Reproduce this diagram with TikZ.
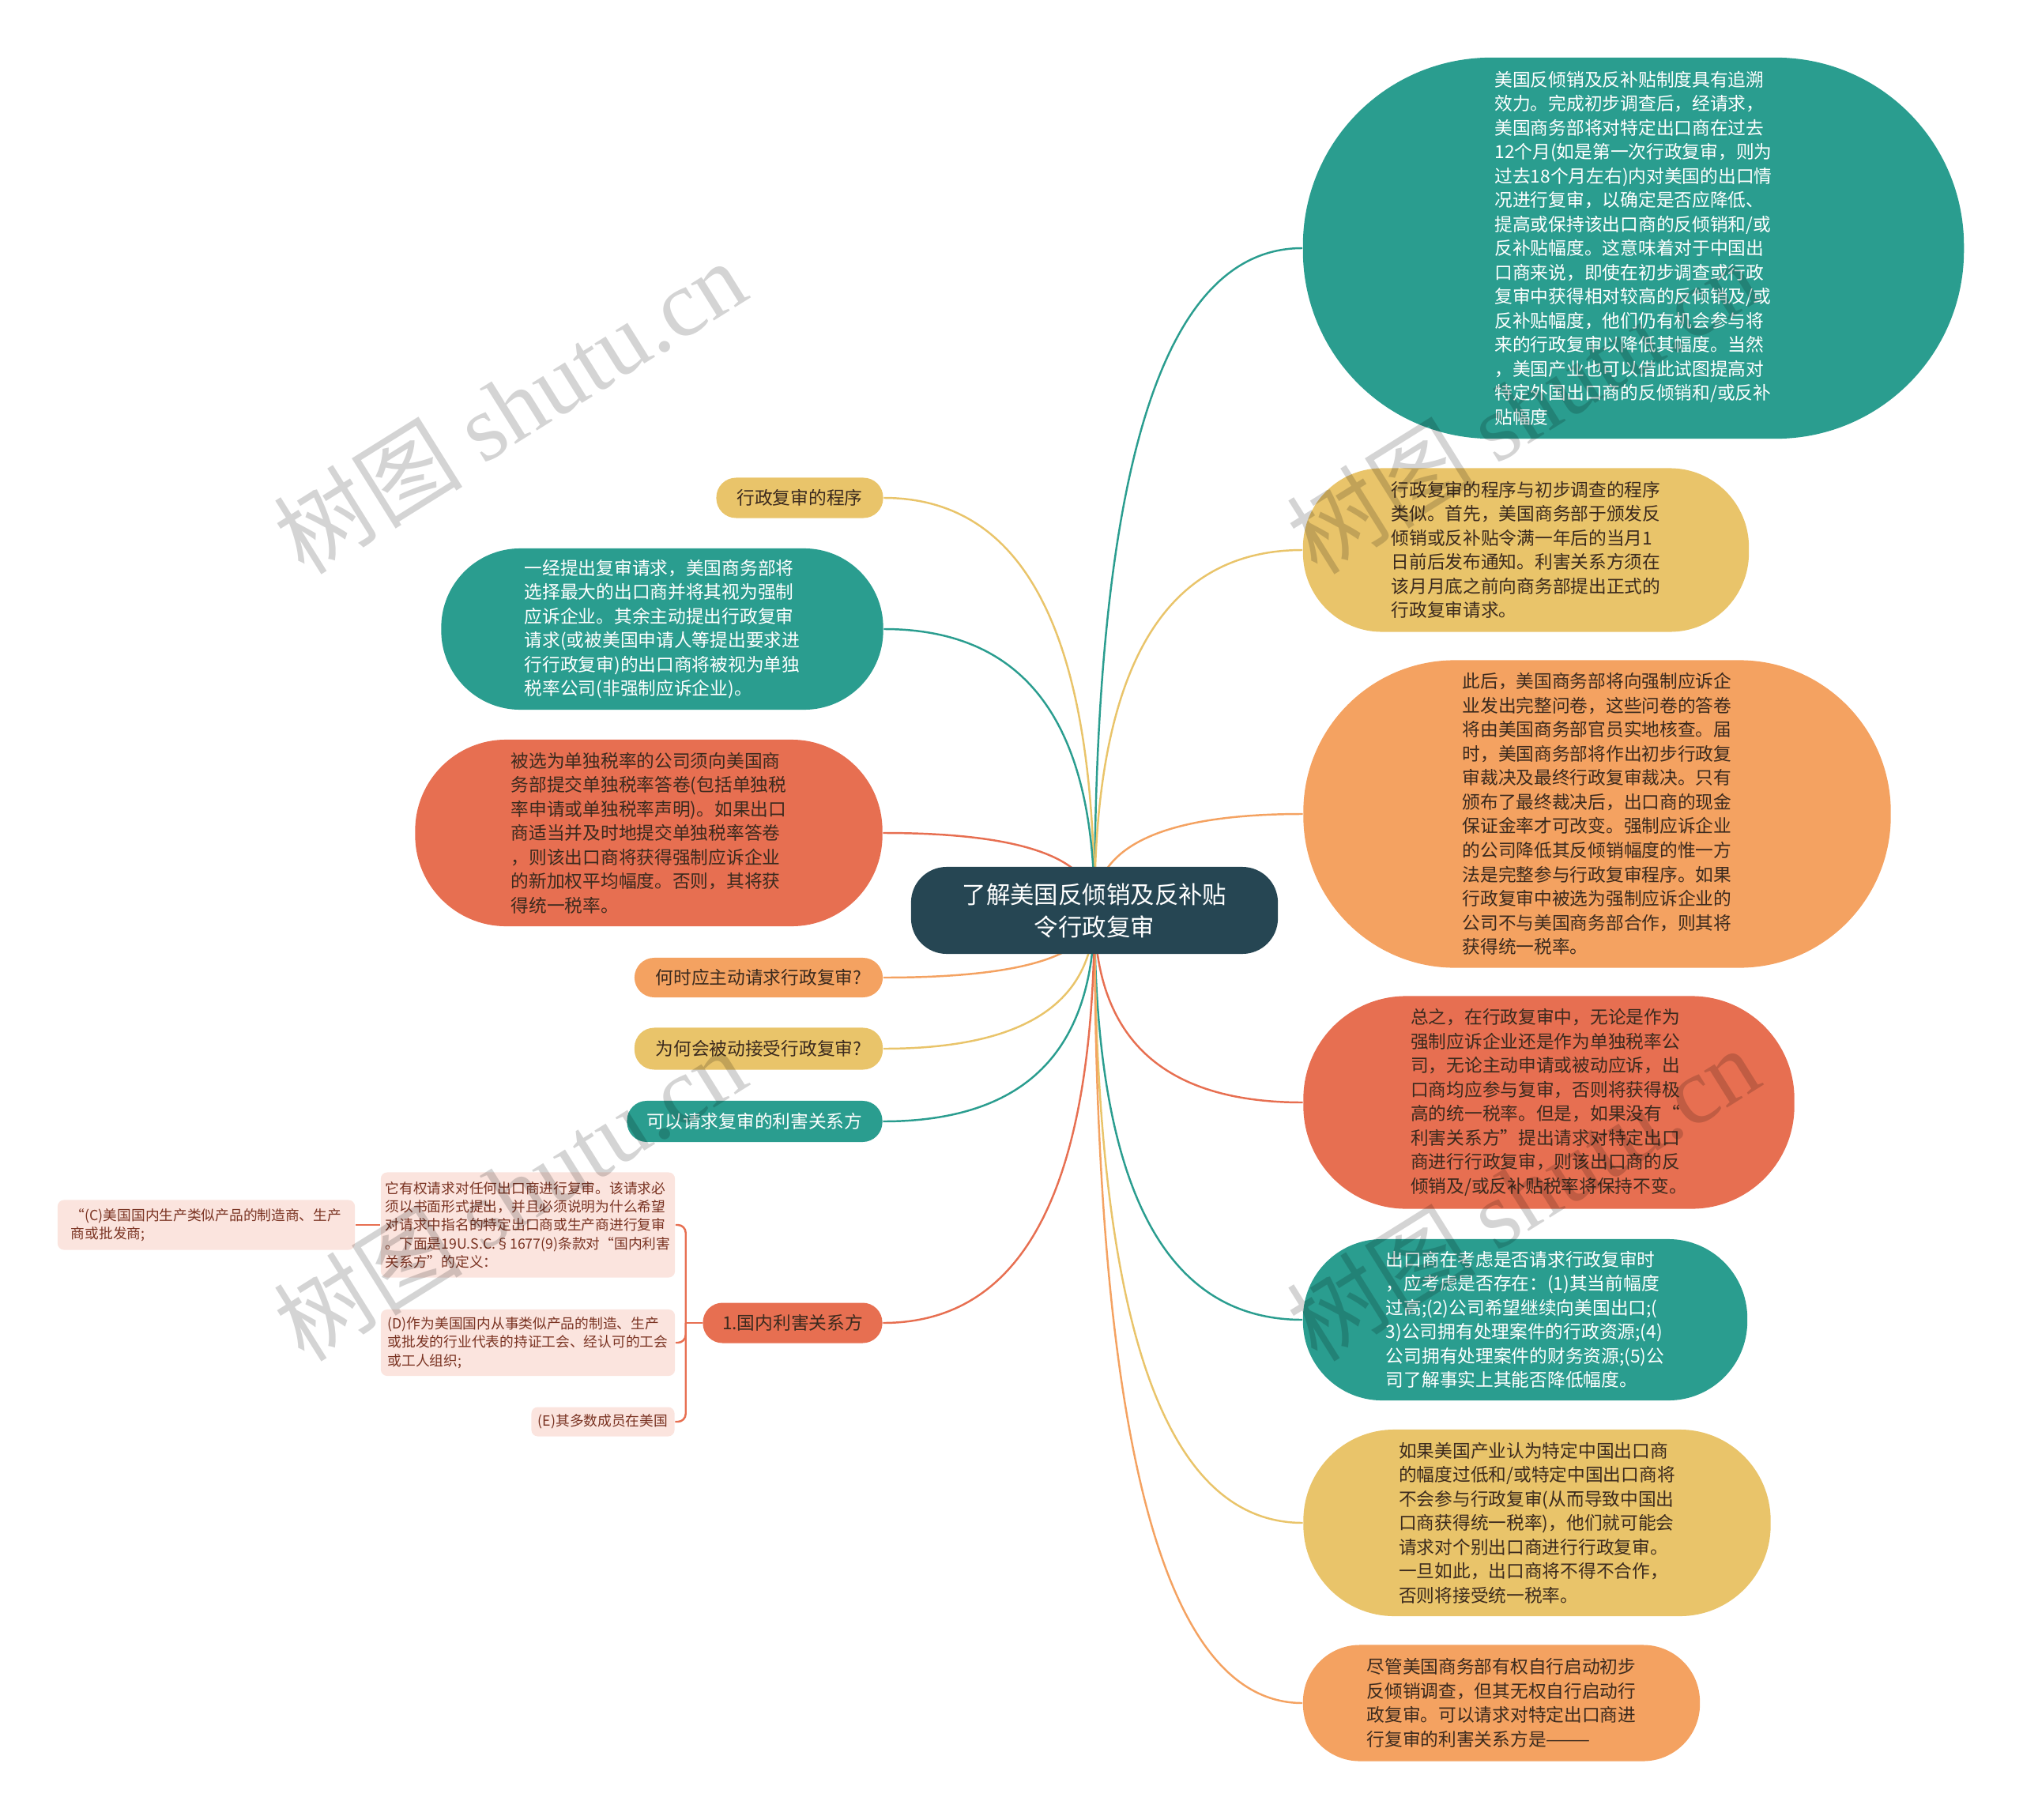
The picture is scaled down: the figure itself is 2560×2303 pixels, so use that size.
\documentclass[tikz,border=0pt]{standalone}
\usepackage{fontspec}
\setmainfont{Noto Sans CJK SC}
\newfontfamily\wmfont{Liberation Serif}
\usepackage{tikz}
\usetikzlibrary{calc,backgrounds}
\definecolor{hubc}{HTML}{264653}
\definecolor{tl}{HTML}{2A9D8F}
\definecolor{yl}{HTML}{E9C46A}
\definecolor{og}{HTML}{F4A261}
\definecolor{rd}{HTML}{E76F51}
\definecolor{pk}{HTML}{FBE4DE}
\definecolor{dk}{HTML}{3B2A1E}
\definecolor{pt}{HTML}{7A3322}
\begin{document}
\begin{tikzpicture}[x=0.01cm, y=-0.01cm]
	\tikzset{bx/.style={rounded corners=#1, inner sep=0pt, align=left, text=dk, font=\fontsize{6.46}{8.68}\selectfont}}
	\tikzset{sm/.style={rounded corners=0.08cm, inner sep=0pt, align=left, fill=pk, text=pt, font=\fontsize{5.04}{6.63}\selectfont}}
	\tikzset{ln/.style={line width=0.7pt}}
	\tikzset{wm/.style={text=black, text opacity=0.17, font=\fontsize{34}{34}\selectfont, rotate=32}}
	\useasboundingbox (0,0) rectangle (2560,2303);
	% centre
	\node[rounded corners=0.45cm, fill=hubc, text=white, align=center, inner sep=0pt, minimum width=4.64cm, minimum height=1.10cm, font=\fontsize{8.65}{11.67}\selectfont] (c) at (1385,1152) {了解美国反倾销及反补贴\\令行政复审};
	% right side
	\node[bx=2.38cm, fill=tl, text=white, minimum width=8.36cm, minimum height=4.82cm] (r1) at (2067,314) {美国反倾销及反补贴制度具有追溯\\效力。完成初步调查后，经请求，\\美国商务部将对特定出口商在过去\\12个月(如是第一次行政复审，则为\\过去18个月左右)内对美国的出口情\\况进行复审，以确定是否应降低、\\提高或保持该出口商的反倾销和/或\\反补贴幅度。这意味着对于中国出\\口商来说，即使在初步调查或行政\\复审中获得相对较高的反倾销及/或\\反补贴幅度，他们仍有机会参与将\\来的行政复审以降低其幅度。当然\\，美国产业也可以借此试图提高对\\特定外国出口商的反倾销和/或反补\\贴幅度};
	\node[bx=1cm, fill=yl, minimum width=5.64cm, minimum height=2.07cm] (r2) at (1931,696) {行政复审的程序与初步调查的程序\\类似。首先，美国商务部于颁发反\\倾销或反补贴令满一年后的当月1\\日前后发布通知。利害关系方须在\\该月月底之前向商务部提出正式的\\行政复审请求。};
	\node[bx=1.92cm, fill=og, minimum width=7.43cm, minimum height=3.89cm] (r3) at (2021,1030) {此后，美国商务部将向强制应诉企\\业发出完整问卷，这些问卷的答卷\\将由美国商务部官员实地核查。届\\时，美国商务部将作出初步行政复\\审裁决及最终行政复审裁决。只有\\颁布了最终裁决后，出口商的现金\\保证金率才可改变。强制应诉企业\\的公司降低其反倾销幅度的惟一方\\法是完整参与行政复审程序。如果\\行政复审中被选为强制应诉企业的\\公司不与美国商务部合作，则其将\\获得统一税率。};
	\node[bx=1.3cm, fill=rd, minimum width=6.21cm, minimum height=2.69cm] (r4) at (1960,1395) {总之，在行政复审中，无论是作为\\强制应诉企业还是作为单独税率公\\司，无论主动申请或被动应诉，出\\口商均应参与复审，否则将获得极\\高的统一税率。但是，如果没有“\\利害关系方”提出请求对特定出口\\商进行行政复审，则该出口商的反\\倾销及/或反补贴税率将保持不变。};
	\node[bx=1cm, fill=tl, text=white, minimum width=5.62cm, minimum height=2.04cm] (r5) at (1930,1670) {出口商在考虑是否请求行政复审时\\，应考虑是否存在：(1)其当前幅度\\过高;(2)公司希望继续向美国出口;(\\3)公司拥有处理案件的行政资源;(4)\\公司拥有处理案件的财务资源;(5)公\\司了解事实上其能否降低幅度。};
	\node[bx=1.15cm, fill=yl, minimum width=5.91cm, minimum height=2.36cm] (r6) at (1945,1927) {如果美国产业认为特定中国出口商\\的幅度过低和/或特定中国出口商将\\不会参与行政复审(从而导致中国出\\口商获得统一税率)，他们就可能会\\请求对个别出口商进行行政复审。\\一旦如此，出口商将不得不合作，\\否则将接受统一税率。};
	\node[bx=0.72cm, fill=og, minimum width=5.02cm, minimum height=1.47cm] (r7) at (1900,2155) {尽管美国商务部有权自行启动初步\\反倾销调查，但其无权自行启动行\\政复审。可以请求对特定出口商进\\行复审的利害关系方是———};
	% left side
	\node[bx=0.25cm, fill=yl, align=center, minimum width=2.11cm, minimum height=0.51cm] (l1) at (1012,630) {行政复审的程序};
	\node[bx=1cm, fill=tl, text=white, minimum width=5.59cm, minimum height=2.04cm] (l2) at (838,796) {一经提出复审请求，美国商务部将\\选择最大的出口商并将其视为强制\\应诉企业。其余主动提出行政复审\\请求(或被美国申请人等提出要求进\\行行政复审)的出口商将被视为单独\\税率公司(非强制应诉企业)。};
	\node[bx=1.15cm, fill=rd, minimum width=5.91cm, minimum height=2.36cm] (l3) at (821,1054) {被选为单独税率的公司须向美国商\\务部提交单独税率答卷(包括单独税\\率申请或单独税率声明)。如果出口\\商适当并及时地提交单独税率答卷\\，则该出口商将获得强制应诉企业\\的新加权平均幅度。否则，其将获\\得统一税率。};
	\node[bx=0.25cm, fill=og, align=center, minimum width=3.14cm, minimum height=0.50cm] (l4) at (960,1237) {何时应主动请求行政复审?};
	\node[bx=0.25cm, fill=yl, align=center, minimum width=3.14cm, minimum height=0.53cm] (l5) at (960,1327) {为何会被动接受行政复审?};
	\node[bx=0.25cm, fill=tl, text=white, align=center, minimum width=3.23cm, minimum height=0.52cm] (l6) at (955,1419) {可以请求复审的利害关系方};
	\node[bx=0.25cm, fill=rd, align=center, minimum width=2.27cm, minimum height=0.51cm] (l7) at (1003,1674) {1.国内利害关系方};
	% sub topics
	\node[sm, minimum width=3.72cm, minimum height=1.33cm] (p1) at (668,1550) {它有权请求对任何出口商进行复审。该请求必\\须以书面形式提出，并且必须说明为什么希望\\对请求中指名的特定出口商或生产商进行复审\\。下面是19U.S.C.§1677(9)条款对“国内利害\\关系方”的定义：};
	\node[sm, minimum width=3.72cm, minimum height=0.84cm] (p2) at (668,1699) {(D)作为美国国内从事类似产品的制造、生产\\或批发的行业代表的持证工会、经认可的工会\\或工人组织;};
	\node[sm, minimum width=1.81cm, minimum height=0.37cm] (p3) at (763,1799) {(E)其多数成员在美国};
	\node[sm, minimum width=3.76cm, minimum height=0.63cm] (p0) at (261,1550) {“(C)美国国内生产类似产品的制造商、生产\\商或批发商;};
	\coordinate (hb) at ($(l7.west)+(-21,0)$);
	% connectors
	\begin{pgfonlayer}{background}
		\foreach \n/\k in {r1/tl,r2/yl,r3/og,r4/rd,r5/tl,r6/yl,r7/og}
			\draw[ln, draw=\k] (c.center) .. controls ($(c.center)!.67!(c.center|-\n.west)$) and ($(\n.west)!.67!(c.center|-\n.west)$) .. (\n.west);
		\foreach \n/\k in {l1/yl,l2/tl,l3/rd,l4/og,l5/yl,l6/tl,l7/rd}
			\draw[ln, draw=\k] (c.center) .. controls ($(c.center)!.67!(c.center|-\n.east)$) and ($(\n.east)!.67!(c.center|-\n.east)$) .. (\n.east);
	\end{pgfonlayer}
	\draw[ln, draw=rd] (l7.west) -- (hb);
	\foreach \n in {p1,p2,p3}
		\draw[ln, draw=rd, rounded corners=0.1cm] (hb) |- (\n.east);
	\draw[ln, draw=rd] (p1.west) -- (p0.east);
	% watermarks
	\node[wm] (w1) at (645,514) {树图 {\wmfont shutu.cn}};
	\node[wm] (w2) at (1927,514) {树图 {\wmfont shutu.cn}};
	\node[wm] (w3) at (645,1510) {树图 {\wmfont shutu.cn}};
	\node[wm] (w4) at (1927,1510) {树图 {\wmfont shutu.cn}};
\end{tikzpicture}
\end{document}
